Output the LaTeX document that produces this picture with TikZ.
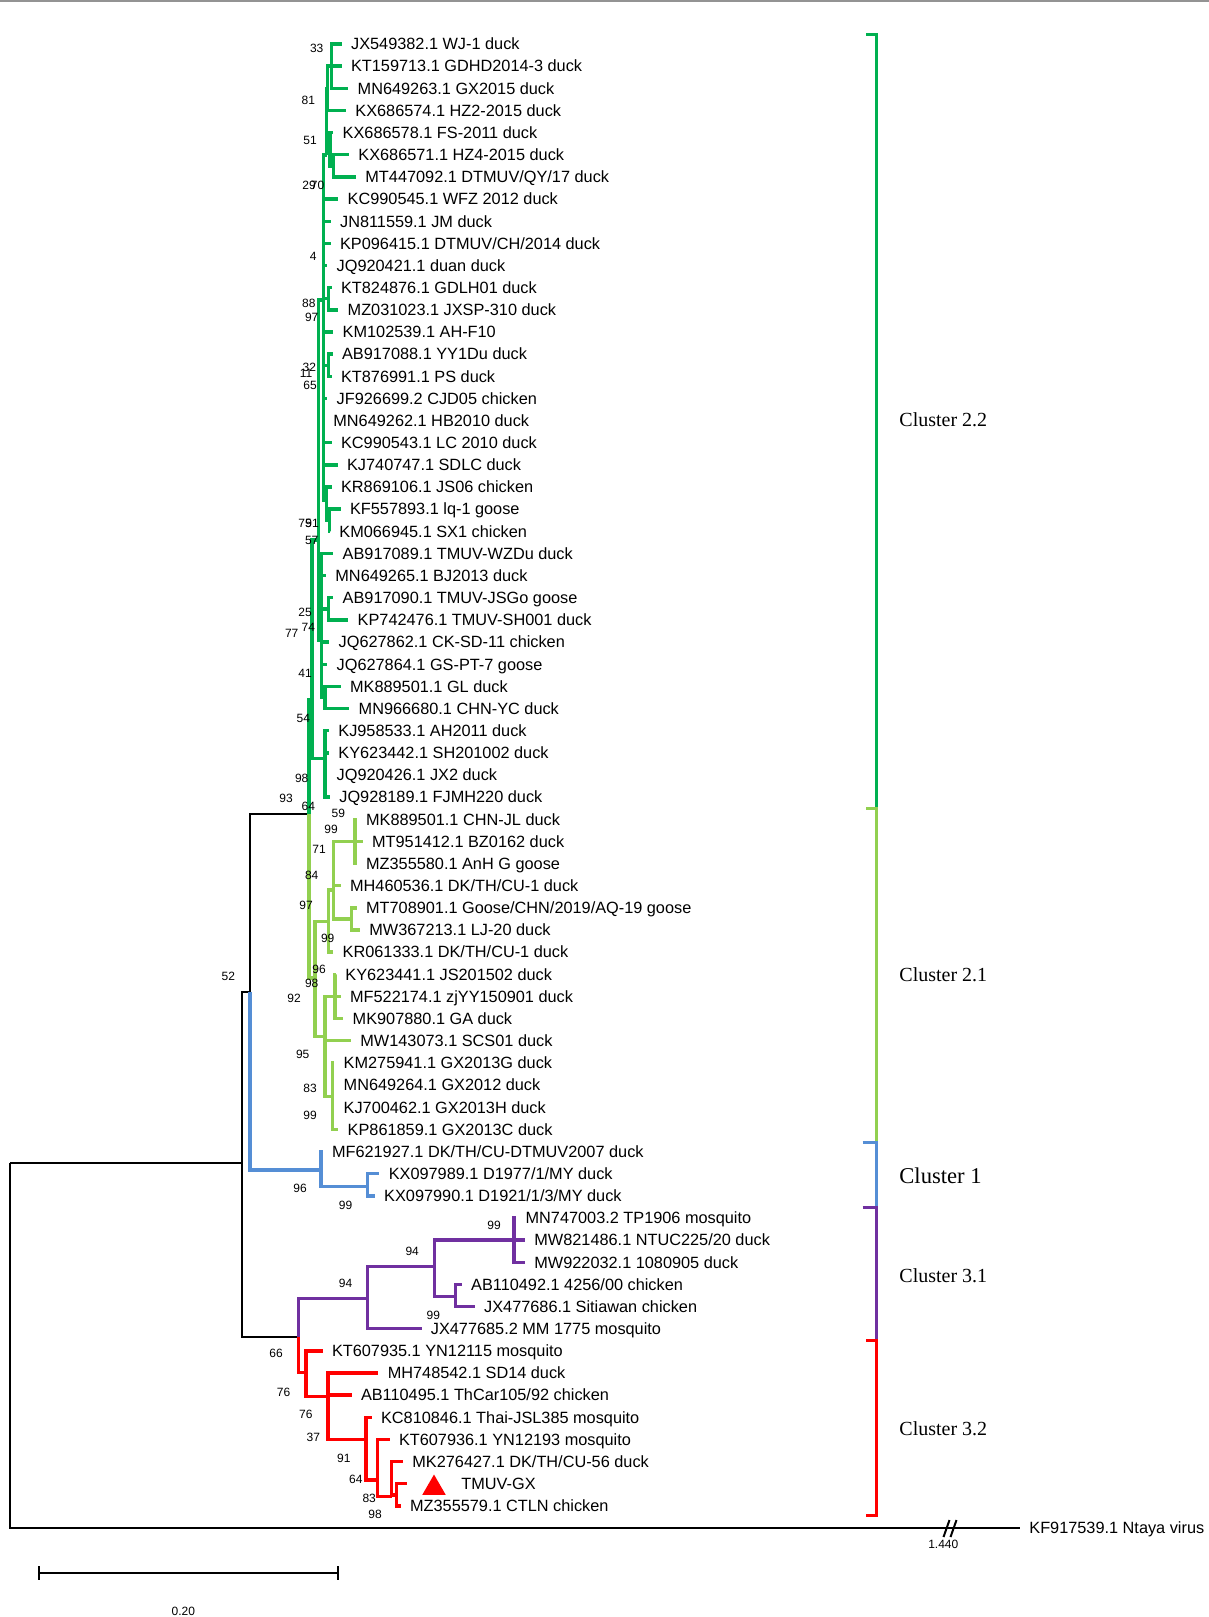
\documentclass[tikz,border=0pt]{standalone}
\usepackage{fontspec}
\newfontfamily\arialf{Liberation Sans}
\newfontfamily\timesf{Liberation Serif}
\usetikzlibrary{shapes.geometric}
\definecolor{cgreen}{RGB}{0,176,80}
\definecolor{clight}{RGB}{146,208,80}
\definecolor{cblue}{RGB}{85,142,213}
\definecolor{cpurple}{RGB}{112,48,160}
\definecolor{cred}{RGB}{255,0,0}
\tikzset{
  tree/.style={draw=black, line width=1pt},
  c22/.style={draw=cgreen, line width=1.7pt},
  c21/.style={draw=clight, line width=1.7pt},
  c1/.style={draw=cblue, line width=1.7pt},
  c31/.style={draw=cpurple, line width=1.7pt},
  c32/.style={draw=cred, line width=1.7pt},
  leaf/.style={anchor=west, inner sep=0pt, xshift=4.5pt, text height=5.8pt, text depth=0pt,
    font=\arialf\fontsize{8.15}{9}\selectfont},
  bs/.style={inner sep=0pt, text height=4.3pt, text depth=0pt, font=\arialf\fontsize{6}{7}\selectfont},
  clu/.style={anchor=west, inner sep=0pt, text height=6.6pt, text depth=0pt,
    font=\timesf\fontsize{10}{12}\selectfont},
  bracket/.style={line width=1.5pt}
}
\begin{document}
\begin{tikzpicture}[x=0.5pt, y=-0.5pt, line join=miter]
\useasboundingbox (0,0) rectangle (1209,1617);
\draw[gray!85, line width=0.8pt] (0,0.8) -- (1209,0.8);

% leaf ends
\foreach \i/\x in {1/341.7,2/341.7,3/348.3,4/346,5/333.3,6/349,7/356,8/338.3,9/330.7,10/330.7,
  11/327.3,12/331.7,13/338.3,14/333.3,15/332.7,16/331.7,17/327.3,18/324,19/331.7,20/337.7,
  21/331.7,22/340.7,23/330,24/333.3,25/326,26/333.3,27/348.3,28/329.3,29/327.3,30/340.7,
  31/349.3,32/329,33/329,34/327.3,35/330,36/356.7,37/362.7,38/356.7,39/340.7,40/356.7,
  41/360,42/333.3,43/336,44/340.7,45/343.3,46/351,47/334.3,48/334.3,49/334.3,50/338.3,
  51/322.6,52/379.4,53/374.8,54/516.2,55/525,56/525,57/461.8,58/474.8,59/421.5,60/322.6,
  61/378.4,62/351.6,63/371.7,64/389.6,65/403,66/407,67/400.7,68/1020}
  \coordinate (l\i) at (\x,{44+(\i-1)*22.15});

% inner nodes
\path
  (9.8,1163.3) coordinate (root)
  (242,1163.3) coordinate (A)
  (250,991.7) coordinate (B)
  (309,814.3) coordinate (C)
  (298.2,1336.7) coordinate (D)
  % cluster 2.2
  (331.7,66.15) coordinate (G1)
  (327.3,88.3) coordinate (G2)
  (333.3,165.8) coordinate (G3)
  (330,150) coordinate (G4)
  (326.7,155) coordinate (G5)
  (328.3,298.7) coordinate (G7)
  (328.3,365.2) coordinate (G8)
  (329.3,520.2) coordinate (G9)
  (326.7,500) coordinate (G10)
  (328.3,608.8) coordinate (G11)
  (325,697.4) coordinate (G12)
  (325,758.3) coordinate (G13)
  (323.3,300) coordinate (SPU)
  (321.7,640) coordinate (S3)
  (318.3,540) coordinate (S2)
  (312,700) coordinate (GB)
  % cluster 2.1
  (355,841.4) coordinate (LG5)
  (351.7,918.9) coordinate (LG6)
  (333.3,890) coordinate (LG4)
  (328.3,921.7) coordinate (LG2)
  (335,996.4) coordinate (LG7)
  (332.7,1096.6) coordinate (LG8)
  (325,1036.7) coordinate (LG3)
  (315,978) coordinate (LG1)
  % cluster 1
  (321,1170) coordinate (BL1)
  (367.7,1186.7) coordinate (BL2)
  % cluster 3.1
  (367.7,1298.3) coordinate (P1)
  (434.3,1266.7) coordinate (P2)
  (514,1240.1) coordinate (P3)
  (455.4,1296.7) coordinate (P4)
  % cluster 3.2
  (305.8,1372.7) coordinate (R1)
  (328.1,1396.7) coordinate (R2)
  (366,1439.3) coordinate (R3)
  (377.2,1480) coordinate (R4)
  (391.5,1496.7) coordinate (R5)
  (396.4,1495) coordinate (R6)
  ;

% branches
\foreach \p/\c in {root/A,root/l68,A/B,A/D,B/C}
  \draw[tree] (\p) |- (\c);
\foreach \p/\c in {C/GB,GB/S2,GB/G13,S2/SPU,S2/S3,
  G1/l1,G1/l2,G1/l3,G2/G1,G2/l4,G3/l6,G3/l7,G4/l5,G4/G3,G5/G2,G5/G4,
  SPU/G5,SPU/l8,SPU/l9,SPU/l10,SPU/l11,SPU/G7,SPU/l14,SPU/G8,SPU/l17,SPU/l18,SPU/l19,SPU/l20,SPU/G10,
  G7/l12,G7/l13,G8/l15,G8/l16,G10/l21,G10/G9,G9/l22,G9/l23,
  S3/l24,S3/l25,S3/G11,S3/l28,S3/l29,S3/G12,G11/l26,G11/l27,G12/l30,G12/l31,
  G13/l32,G13/l33,G13/l34,G13/l35}
  \draw[c22] (\p) |- (\c);
\foreach \p/\c in {C/LG1,LG1/LG2,LG1/LG3,LG2/LG4,LG2/l42,LG4/LG5,LG4/l39,LG4/LG6,
  LG5/l36,LG5/l37,LG5/l38,LG6/l40,LG6/l41,LG3/LG7,LG3/l46,LG3/LG8,
  LG7/l43,LG7/l44,LG7/l45,LG8/l47,LG8/l48,LG8/l49,LG8/l50}
  \draw[c21] (\p) |- (\c);
\foreach \p/\c in {B/BL1,BL1/l51,BL1/BL2,BL2/l52,BL2/l53}
  \draw[c1] (\p) |- (\c);
\foreach \p/\c in {D/P1,P1/P2,P1/l59,P2/P3,P2/P4,P3/l54,P3/l55,P3/l56,P4/l57,P4/l58}
  \draw[c31] (\p) |- (\c);
\foreach \p/\c in {D/R1,R1/l60,R1/R2,R2/l61,R2/l62,R2/R3,R3/l63,R3/R4,R4/l64,R4/R5,
  R5/l65,R5/R6,R6/l66,R6/l67}
  \draw[c32] (\p) |- (\c);

% taxa
\node[leaf] (t1) at (l1) {JX549382.1 WJ-1 duck};
\node[leaf] (t2) at (l2) {KT159713.1 GDHD2014-3 duck};
\node[leaf] (t3) at (l3) {MN649263.1 GX2015 duck};
\node[leaf] (t4) at (l4) {KX686574.1 HZ2-2015 duck};
\node[leaf] (t5) at (l5) {KX686578.1 FS-2011 duck};
\node[leaf] (t6) at (l6) {KX686571.1 HZ4-2015 duck};
\node[leaf] (t7) at (l7) {MT447092.1 DTMUV/QY/17 duck};
\node[leaf] (t8) at (l8) {KC990545.1 WFZ 2012 duck};
\node[leaf] (t9) at (l9) {JN811559.1 JM duck};
\node[leaf] (t10) at (l10) {KP096415.1 DTMUV/CH/2014 duck};
\node[leaf] (t11) at (l11) {JQ920421.1 duan duck};
\node[leaf] (t12) at (l12) {KT824876.1 GDLH01 duck};
\node[leaf] (t13) at (l13) {MZ031023.1 JXSP-310 duck};
\node[leaf] (t14) at (l14) {KM102539.1 AH-F10};
\node[leaf] (t15) at (l15) {AB917088.1 YY1Du duck};
\node[leaf] (t16) at (l16) {KT876991.1 PS duck};
\node[leaf] (t17) at (l17) {JF926699.2 CJD05 chicken};
\node[leaf] (t18) at (l18) {MN649262.1 HB2010 duck};
\node[leaf] (t19) at (l19) {KC990543.1 LC 2010 duck};
\node[leaf] (t20) at (l20) {KJ740747.1 SDLC duck};
\node[leaf] (t21) at (l21) {KR869106.1 JS06 chicken};
\node[leaf] (t22) at (l22) {KF557893.1 lq-1 goose};
\node[leaf] (t23) at (l23) {KM066945.1 SX1 chicken};
\node[leaf] (t24) at (l24) {AB917089.1 TMUV-WZDu duck};
\node[leaf] (t25) at (l25) {MN649265.1 BJ2013 duck};
\node[leaf] (t26) at (l26) {AB917090.1 TMUV-JSGo goose};
\node[leaf] (t27) at (l27) {KP742476.1 TMUV-SH001 duck};
\node[leaf] (t28) at (l28) {JQ627862.1 CK-SD-11 chicken};
\node[leaf] (t29) at (l29) {JQ627864.1 GS-PT-7 goose};
\node[leaf] (t30) at (l30) {MK889501.1 GL duck};
\node[leaf] (t31) at (l31) {MN966680.1 CHN-YC duck};
\node[leaf] (t32) at (l32) {KJ958533.1 AH2011 duck};
\node[leaf] (t33) at (l33) {KY623442.1 SH201002 duck};
\node[leaf] (t34) at (l34) {JQ920426.1 JX2 duck};
\node[leaf] (t35) at (l35) {JQ928189.1 FJMH220 duck};
\node[leaf] (t36) at (l36) {MK889501.1 CHN-JL duck};
\node[leaf] (t37) at (l37) {MT951412.1 BZ0162 duck};
\node[leaf] (t38) at (l38) {MZ355580.1 AnH G goose};
\node[leaf] (t39) at (l39) {MH460536.1 DK/TH/CU-1 duck};
\node[leaf] (t40) at (l40) {MT708901.1 Goose/CHN/2019/AQ-19 goose};
\node[leaf] (t41) at (l41) {MW367213.1 LJ-20 duck};
\node[leaf] (t42) at (l42) {KR061333.1 DK/TH/CU-1 duck};
\node[leaf] (t43) at (l43) {KY623441.1 JS201502 duck};
\node[leaf] (t44) at (l44) {MF522174.1 zjYY150901 duck};
\node[leaf] (t45) at (l45) {MK907880.1 GA duck};
\node[leaf] (t46) at (l46) {MW143073.1 SCS01 duck};
\node[leaf] (t47) at (l47) {KM275941.1 GX2013G duck};
\node[leaf] (t48) at (l48) {MN649264.1 GX2012 duck};
\node[leaf] (t49) at (l49) {KJ700462.1 GX2013H duck};
\node[leaf] (t50) at (l50) {KP861859.1 GX2013C duck};
\node[leaf] (t51) at (l51) {MF621927.1 DK/TH/CU-DTMUV2007 duck};
\node[leaf] (t52) at (l52) {KX097989.1 D1977/1/MY duck};
\node[leaf] (t53) at (l53) {KX097990.1 D1921/1/3/MY duck};
\node[leaf] (t54) at (l54) {MN747003.2 TP1906 mosquito};
\node[leaf] (t55) at (l55) {MW821486.1 NTUC225/20 duck};
\node[leaf] (t56) at (l56) {MW922032.1 1080905 duck};
\node[leaf] (t57) at (l57) {AB110492.1 4256/00 chicken};
\node[leaf] (t58) at (l58) {JX477686.1 Sitiawan chicken};
\node[leaf] (t59) at (l59) {JX477685.2 MM 1775 mosquito};
\node[leaf] (t60) at (l60) {KT607935.1 YN12115 mosquito};
\node[leaf] (t61) at (l61) {MH748542.1 SD14 duck};
\node[leaf] (t62) at (l62) {AB110495.1 ThCar105/92 chicken};
\node[leaf] (t63) at (l63) {KC810846.1 Thai-JSL385 mosquito};
\node[leaf] (t64) at (l64) {KT607936.1 YN12193 mosquito};
\node[leaf] (t65) at (l65) {MK276427.1 DK/TH/CU-56 duck};
\node[regular polygon, regular polygon sides=3, fill=cred, inner sep=0pt, minimum size=13.5pt] (gx) at (434,1488) {};
\node[leaf] (t66) at (452,1483.75) {TMUV-GX};
\node[leaf] (t67) at (l67) {MZ355579.1 CTLN chicken};
\node[leaf] (t68) at (l68) {KF917539.1 Ntaya virus};

% bootstrap values
\foreach \x/\y/\v [count=\k] in {316.7/48.3/33, 308.3/100/81, 310/140/51, 309/185/29, 317.5/185/70,
  313.3/256/4, 308.8/302.7/88, 311.7/316.7/97, 309.3/367.3/32, 306/372.7/11, 310/385/65,
  305/523/75, 312/523/91, 311.7/540/57, 305/611.7/25, 308.3/627.3/74, 291.7/633.3/77,
  305/673.3/41, 303.3/717.7/54, 301.7/778.3/98, 286/798.3/93, 308.3/806/64,
  338.3/813.3/59, 331/829.3/99, 319/849.3/71, 311.7/875/84, 306/905/97, 327.7/938.3/99,
  319/969/96, 311.7/983.3/98, 294/997.7/92, 302.7/1054/95, 310/1087.7/83, 310/1115/99,
  228.3/975.7/52, 300/1188.3/96, 345.6/1205/99,
  494/1225/99, 412.2/1250.7/94, 345.6/1282.7/94, 433.3/1315/99,
  276/1353.3/66, 283.5/1392.3/76, 305.8/1414.3/76, 313.4/1436.7/37, 343.8/1458.3/91,
  355.8/1479.3/64, 369.2/1498.3/83, 375/1514.3/98}
  \node[bs] (bs\k) at (\x,\y) {\v};

% long outgroup branch break
\draw[tree] (943.5,1537) -- (949.5,1520);
\draw[tree] (950.5,1537) -- (956.5,1520);
\node[bs] (brk) at (943.3,1544.3) {1.440};

% cluster brackets
\draw[cgreen, bracket] (866,34.5) -- (876.7,34.5) -- (876.7,808) -- (866,808);
\draw[clight, bracket] (866,808) -- (876.7,808) -- (876.7,1142.5) -- (866,1142.5);
\draw[cblue, bracket] (862.7,1142.5) -- (876.7,1142.5) -- (876.7,1207.5) -- (862.7,1207.5);
\draw[cpurple, bracket] (862.7,1207.5) -- (876.7,1207.5) -- (876.7,1340.3) -- (866,1340.3);
\draw[cred, bracket] (866,1340.3) -- (876.7,1340.3) -- (876.7,1515.7) -- (866,1515.7);
\node[clu] (k22) at (899,420.3) {Cluster 2.2};
\node[clu] (k21) at (899,974.8) {Cluster 2.1};
\node[clu, text height=7.5pt, font=\timesf\fontsize{11.3}{13}\selectfont] (k1) at (899,1175.5) {Cluster 1};
\node[clu] (k31) at (899,1276.3) {Cluster 3.1};
\node[clu] (k32) at (899,1428.5) {Cluster 3.2};

% scale bar
\path (39.3,1573.3) coordinate (sL) (338.3,1573.3) coordinate (sR);
\draw[tree] (sL) -- (sR);
\draw[tree] (sL) ++(0,-7) -- ++(0,14);
\draw[tree] (sR) ++(0,-7) -- ++(0,14);
\node[bs] (sbar) at (183.3,1611) {0.20};
\end{tikzpicture}
\end{document}
